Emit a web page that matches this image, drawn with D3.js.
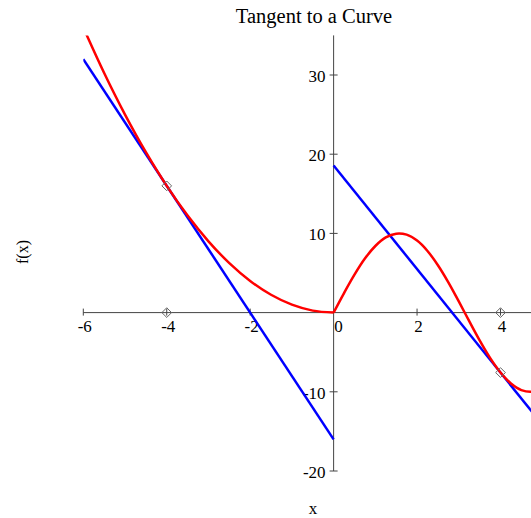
<!DOCTYPE html>
<html>
<head>
<meta charset="utf-8">
<script src="https://cdn.jsdelivr.net/npm/d3@7"></script>
<style>
  body { margin: 0; background: #fff; }
  svg { display: block; }
  text { font-family: "Liberation Serif", "Times New Roman", serif; fill: #000; }
</style>
</head>
<body>
<script>
// f(x) on the left branch (x <= 0)
const curveLeftX = [-6, -5.5, -5, -4.5, -4, -3.5, -3, -2.5, -2, -1.5, -1, -0.5, 0];
const curveLeftY = [36, 30.25, 25, 20.25, 16, 12.25, 9, 6.25, 4, 2.25, 1, 0.25, 0];
// f(x) on the right branch (x >= 0)
const curveRightX = [0, 0.25, 0.5, 0.75, 1, 1.25, 1.5, 1.75, 2, 2.25, 2.5, 2.75, 3, 3.25, 3.5, 3.75, 4, 4.25, 4.5, 4.75, 5];
const curveRightY = [0, 2.47, 4.79, 6.82, 8.41, 9.49, 9.97, 9.84, 9.09, 7.78, 5.98, 3.82, 1.41, -1.08, -3.51, -5.72, -7.57, -8.95, -9.78, -9.99, -9.59];
// tangent line segments (endpoints)
const tangentLeftX = [-6, 0];
const tangentLeftY = [32, -16];
const tangentRightX = [0, 5];
const tangentRightY = [18.57, -14.11];
// marked points
const markX = [-4, -4, 4, 4];
const markY = [16, 0, 0, -7.57];
// axis ticks
const xTicks = [-6, -4, -2, 0, 2, 4];
const xTickLabels = ["-6", "-4", "-2", "0", "2", "4"];
const yTicks = [-20, -10, 10, 20, 30];
const yTickLabels = ["-20", "-10", "10", "20", "30"];

const W = 531, H = 518;
const svg = d3.select("body").append("svg").attr("width", W).attr("height", H);

const x = d3.scaleLinear().domain([-6, 4]).range([83.3, 500.5]);
const y = d3.scaleLinear().domain([-20, 30]).range([471, 75]);

svg.append("defs").append("clipPath").attr("id", "plot-area")
  .append("rect")
  .attr("x", x(-6)).attr("y", y(35))
  .attr("width", W - x(-6)).attr("height", y(-20) - y(35));

const axisColor = "#444";

// x axis
svg.append("line")
  .attr("x1", x(-6)).attr("x2", W)
  .attr("y1", y(0)).attr("y2", y(0))
  .attr("stroke", axisColor).attr("stroke-width", 1);
svg.selectAll(".xtick").data(xTicks.filter(d => d !== 0)).join("line")
  .attr("x1", d => x(d)).attr("x2", d => x(d))
  .attr("y1", y(0) - 4).attr("y2", y(0) + 3)
  .attr("stroke", axisColor);
svg.selectAll(".xlab").data(xTicks).join("text")
  .attr("x", d => x(d) + (d === 0 ? 5 : 1.5))
  .attr("y", y(0) + 19)
  .attr("text-anchor", "middle")
  .attr("font-size", 17)
  .text((d, i) => xTickLabels[i]);

// y axis
svg.append("line")
  .attr("x1", x(0)).attr("x2", x(0))
  .attr("y1", y(35)).attr("y2", y(-20))
  .attr("stroke", axisColor).attr("stroke-width", 1);
svg.selectAll(".ytick").data(yTicks).join("line")
  .attr("x1", x(0) - 4).attr("x2", x(0) + 4)
  .attr("y1", d => y(d)).attr("y2", d => y(d))
  .attr("stroke", axisColor);
svg.selectAll(".ylab").data(yTicks).join("text")
  .attr("x", x(0) - 8)
  .attr("y", d => y(d) + 7)
  .attr("text-anchor", "end")
  .attr("font-size", 17)
  .text((d, i) => yTickLabels[i]);

const plot = svg.append("g").attr("clip-path", "url(#plot-area)");

const zip = (xs, ys) => xs.map((v, i) => [v, ys[i]]);
const smooth = d3.line().x(d => x(d[0])).y(d => y(d[1])).curve(d3.curveCatmullRom.alpha(0.5));
const straight = d3.line().x(d => x(d[0])).y(d => y(d[1]));

// tangent lines
[zip(tangentLeftX, tangentLeftY), zip(tangentRightX, tangentRightY)].forEach(seg => {
  plot.append("path").attr("d", straight(seg))
    .attr("fill", "none").attr("stroke", "#0000ff").attr("stroke-width", 2.5);
});

// the curve
[zip(curveLeftX, curveLeftY), zip(curveRightX, curveRightY)].forEach(seg => {
  plot.append("path").attr("d", smooth(seg))
    .attr("fill", "none").attr("stroke", "#ff0000").attr("stroke-width", 2.5);
});

// diamond markers
const diamond = d3.symbol().type(d3.symbolDiamond2).size(60);
svg.selectAll(".mark").data(zip(markX, markY)).join("path")
  .attr("d", diamond)
  .attr("transform", d => `translate(${x(d[0])},${y(d[1])})`)
  .attr("fill", "none").attr("stroke", "#666").attr("stroke-width", 1);

// titles
svg.append("text").attr("x", 314).attr("y", 23)
  .attr("text-anchor", "middle").attr("font-size", 20.5)
  .text("Tangent to a Curve");
svg.append("text").attr("x", 313).attr("y", 514)
  .attr("text-anchor", "middle").attr("font-size", 17)
  .text("x");
svg.append("text")
  .attr("transform", "translate(28,252) rotate(-90)")
  .attr("text-anchor", "middle").attr("font-size", 16)
  .text("f(x)");
</script>
</body>
</html>
